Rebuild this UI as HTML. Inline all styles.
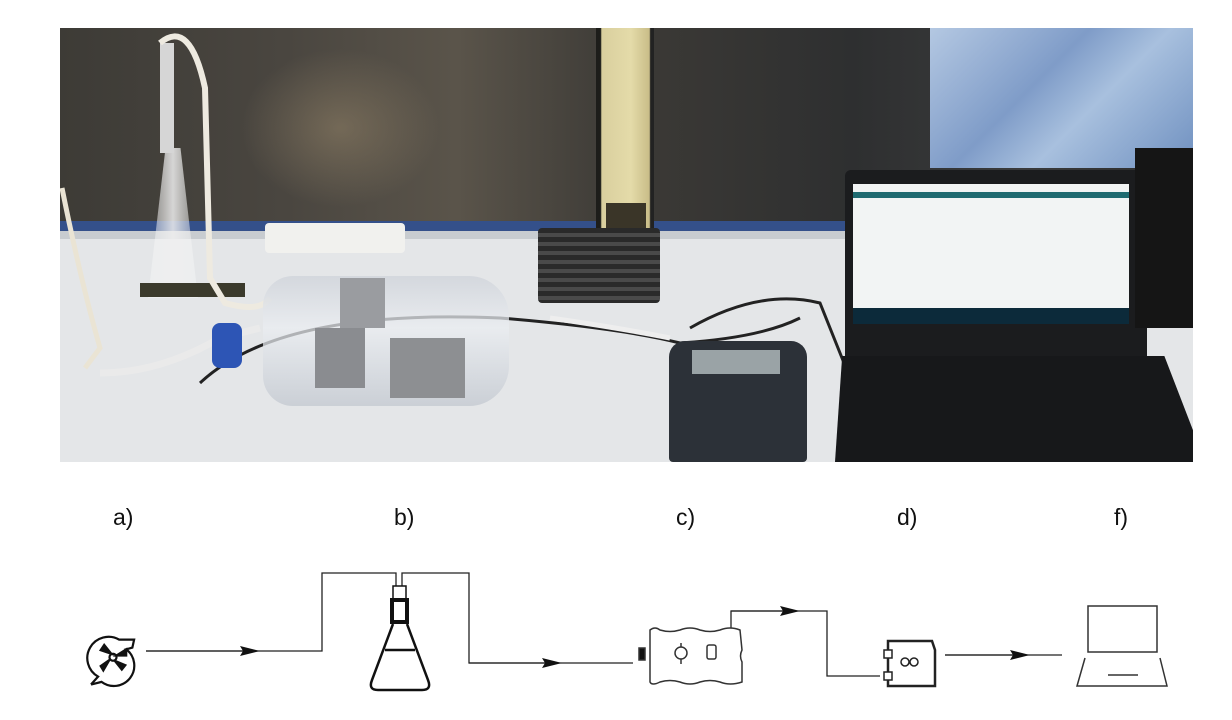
<!DOCTYPE html>
<html><head><meta charset="utf-8">
<style>
html,body{margin:0;padding:0;background:#fff;}
body{width:1232px;height:720px;position:relative;overflow:hidden;font-family:"Liberation Sans",sans-serif;}
.a{position:absolute;}
#photo{position:absolute;left:60px;top:28px;width:1133px;height:434px;overflow:hidden;background:#e4e6e8;}
.lbl{position:absolute;top:504px;font-size:23px;color:#111;font-family:"Liberation Sans Narrow","Liberation Sans",sans-serif;}
</style></head><body>
<div id="photo">
  <div class="a" style="left:0;top:0;width:1133px;height:207px;background:linear-gradient(90deg,#3d3b36 0%,#4a4640 20%,#5a544a 35%,#3c3a36 50%,#2e2f30 70%,#3a3b3c 85%,#2c2c2c 100%);"></div>
  <div class="a" style="left:180px;top:20px;width:200px;height:160px;background:radial-gradient(ellipse at center,rgba(140,125,100,.6),rgba(0,0,0,0) 70%);"></div>
  <div class="a" style="left:0;top:193px;width:870px;height:14px;background:#34508a;"></div>
  <div class="a" style="left:0;top:203px;width:1133px;height:8px;background:#c8ccd0;"></div>
  <div class="a" style="left:536px;top:0;width:58px;height:205px;background:linear-gradient(90deg,#1d1d1a 0 8%,#d9cf9e 10%,#e4dba9 60%,#c9bd88 92%,#222 94%);"></div>
  <div class="a" style="left:546px;top:175px;width:40px;height:45px;background:#3a3528;"></div>
  <div class="a" style="left:870px;top:0;width:263px;height:140px;background:linear-gradient(135deg,#b4c8e2,#7f9cc8 40%,#a8c0de 60%,#6f90c0);"></div>
  <div class="a" style="left:205px;top:195px;width:140px;height:30px;background:#f1f1ee;border-radius:4px;"></div>
  <div class="a" style="left:478px;top:200px;width:122px;height:75px;background:repeating-linear-gradient(180deg,#2a2a2a 0 5px,#4a4a4a 5px 9px);border-radius:4px;"></div>
  <div class="a" style="left:88px;top:120px;width:50px;height:150px;background:linear-gradient(90deg,rgba(255,255,255,.3),rgba(240,240,240,.85),rgba(255,255,255,.3));clip-path:polygon(35% 0,65% 0,100% 100%,0 100%);"></div>
  <div class="a" style="left:100px;top:15px;width:14px;height:110px;background:#d6d6d6;"></div>
  <div class="a" style="left:80px;top:255px;width:105px;height:14px;background:#3b3a2c;"></div>
  <svg class="a" width="1133" height="434" style="left:0;top:0">
    <path d="M100 15 Q130 -10 145 60 L150 250 L165 275 Q200 285 210 270" stroke="#eeeae0" stroke-width="6" fill="none"/>
    <path d="M2 160 Q20 250 40 320 L25 340" stroke="#eae4d4" stroke-width="5" fill="none"/>
    <path d="M40 345 Q100 345 160 310 L200 300" stroke="#eaeaea" stroke-width="7" fill="none"/>
    <path d="M140 355 Q220 280 440 290 Q560 300 620 315 Q700 310 740 290" stroke="#222" stroke-width="3" fill="none"/>
    <path d="M490 290 Q560 300 610 310" stroke="#eee" stroke-width="5" fill="none"/>
    <path d="M630 300 Q700 260 760 275 L790 350" stroke="#222" stroke-width="3" fill="none"/>
  </svg>
  <div class="a" style="left:203px;top:248px;width:246px;height:130px;background:linear-gradient(180deg,rgba(210,214,220,.9),rgba(235,238,242,.7) 40%,rgba(200,205,212,.9));border-radius:30px 40px 40px 30px;"></div>
  <div class="a" style="left:255px;top:300px;width:50px;height:60px;background:#8a8c90;"></div>
  <div class="a" style="left:330px;top:310px;width:75px;height:60px;background:#8d8f92;"></div>
  <div class="a" style="left:280px;top:250px;width:45px;height:50px;background:#9a9ca0;"></div>
  <div class="a" style="left:152px;top:295px;width:30px;height:45px;background:#2d55b5;border-radius:8px;"></div>
  <div class="a" style="left:609px;top:313px;width:138px;height:121px;background:#2c3138;border-radius:16px 16px 4px 4px;"></div>
  <div class="a" style="left:632px;top:322px;width:88px;height:24px;background:#9aa3a6;"></div>
  <div class="a" style="left:785px;top:142px;width:302px;height:186px;background:#1b1c1e;border-radius:6px 6px 0 0;"></div>
  <div class="a" style="left:793px;top:156px;width:276px;height:140px;background:#f2f4f4;"></div>
  <div class="a" style="left:793px;top:164px;width:276px;height:6px;background:#1f6a70;"></div>
  <div class="a" style="left:793px;top:280px;width:276px;height:16px;background:#0c2a3a;"></div>
  <div class="a" style="left:775px;top:328px;width:358px;height:106px;background:#17181a;clip-path:polygon(2% 0,92% 0,100% 70%,100% 100%,0 100%);"></div>
  <div class="a" style="left:1075px;top:120px;width:58px;height:180px;background:#151515;"></div>
</div>

<div class="lbl" style="left:113px;">a)</div>
<div class="lbl" style="left:394px;">b)</div>
<div class="lbl" style="left:676px;">c)</div>
<div class="lbl" style="left:897px;">d)</div>
<div class="lbl" style="left:1114px;">f)</div>

<svg class="a" width="1232" height="720" style="left:0;top:0">
  <defs><marker id="ar" viewBox="0 0 20 10" refX="10" refY="5" markerWidth="20" markerHeight="10" orient="auto" markerUnits="userSpaceOnUse"><path d="M0 0 L20 5 L0 10 L3 5z" fill="#111"/></marker></defs>
  <g stroke="#111" fill="none" stroke-width="2.5" transform="translate(113 659) scale(0.88) translate(-113 -666)">
    <path d="M88 695 L96 686 A20 20 0 1 1 120 644 L137 644 L135 653 L128 655 A20 20 0 0 1 100 692 L88 695"/>
    <circle cx="113" cy="664" r="4"/>
    <path d="M111 660 L103 650 L99 656Z M117 662 L128 655 L128 662Z M115 668 L123 678 L127 673Z M109 667 L99 674 L102 679Z" fill="#111"/>
  </g>
  <g stroke="#222" stroke-width="1.3" fill="none">
    <path d="M146 651 H322 V573 H396 V586"/>
    <path d="M402 586 V573 H469 V663 H633"/>
    <path d="M731 628 V611 H827 V676 H880"/>
    <path d="M945 655 H1062"/>
    <path d="M146 651 H250" marker-end="url(#ar)"/>
    <path d="M469 663 H552" marker-end="url(#ar)"/>
    <path d="M731 611 H790" marker-end="url(#ar)"/>
    <path d="M945 655 H1020" marker-end="url(#ar)"/>
  </g>
  <g stroke="#111" fill="none" stroke-width="2.5">
    <rect x="393" y="586" width="13" height="14" stroke-width="1.5"/>
    <rect x="392" y="600" width="15" height="22" stroke-width="4"/>
    <path d="M393 624 L372 680 Q368 690 378 690 L422 690 Q432 690 428 680 L407 624"/>
    <path d="M385 650 H415"/>
  </g>
  <g stroke="#333" fill="none" stroke-width="1.5">
    <path d="M650 630 Q655 626 660 630 Q670 633 680 630 Q690 626 700 630 Q710 633 720 630 Q730 626 740 630 L742 650 Q739 656 742 662 L742 682 Q730 686 720 682 Q710 679 700 682 Q690 686 680 682 Q670 679 660 682 Q652 686 650 682 Z"/>
    <rect x="639" y="648" width="6" height="12" fill="#111"/>
    <circle cx="681" cy="653" r="6"/>
    <path d="M681 643 V647 M681 659 V664"/>
    <rect x="707" y="645" width="9" height="14" rx="2"/>
  </g>
  <g stroke="#222" fill="none" stroke-width="1.5">
    <path d="M888 641 H932 L935 650 V686 H888 Z" stroke-width="2.5"/>
    <rect x="884" y="650" width="8" height="8" fill="#fff"/>
    <rect x="884" y="672" width="8" height="8" fill="#fff"/>
    <circle cx="905" cy="662" r="4"/><circle cx="914" cy="662" r="4"/>
  </g>
  <g stroke="#333" fill="none" stroke-width="1.5">
    <rect x="1088" y="606" width="69" height="46"/>
    <path d="M1085 658 L1077 686 H1167 L1160 658"/>
    <path d="M1108 675 H1138"/>
  </g>
</svg>
</body></html>
